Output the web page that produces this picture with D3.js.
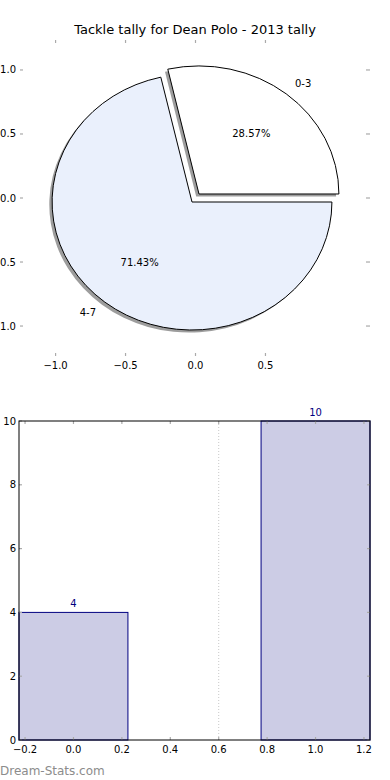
<!DOCTYPE html>
<html>
<head>
<meta charset="utf-8">
<script src="https://cdn.jsdelivr.net/npm/d3@7"></script>
<style>
  body { margin: 0; background: #fff; }
  svg { display: block; font-family: "DejaVu Sans", sans-serif; }
</style>
</head>
<body>
<svg id="chart" width="390" height="780"></svg>
<script>
// pie data
const pieLabels = ["0-3", "4-7"];
const pieValues = [4, 10];
const pieColors = ["#ffffff", "#eaf0fc"];
const pieExplode = [0.04, 0.04];
const pieXTicks = [-1.0, -0.5, 0.0, 0.5];
const pieYTicks = [1.0, 0.5, 0.0, -0.5, -1.0];

// bar data
const barPositions = [0, 1];
const barValues = [4, 10];
const barXTicks = [-0.2, 0.0, 0.2, 0.4, 0.6, 0.8, 1.0, 1.2];
const barYTicks = [0, 2, 4, 6, 8, 10];

const svg = d3.select("#chart");
const tickGray = "#aaaaaa";
const fmt1 = d => d3.format(".1f")(d).replace("-", "\u2212");

// ---------- Pie ----------
const pieBox = { left: 22, right: 369, top: 40, bottom: 356 };
const px = d3.scaleLinear().domain([-1.24, 1.24]).range([pieBox.left, pieBox.right]);
const py = d3.scaleLinear().domain([-1.234, 1.234]).range([pieBox.bottom, pieBox.top]);

svg.append("text")
  .attr("x", 195).attr("y", 34)
  .attr("text-anchor", "middle")
  .style("font-size", "13px")
  .text("Tackle tally for Dean Polo - 2013 tally");

// ticks (no spines)
const pieAxes = svg.append("g");
pieXTicks.forEach(t => {
  pieAxes.append("line").attr("x1", px(t)).attr("x2", px(t)).attr("y1", pieBox.top).attr("y2", pieBox.top + 3)
    .attr("stroke", tickGray).attr("stroke-width", 1.2);
  pieAxes.append("line").attr("x1", px(t)).attr("x2", px(t)).attr("y1", pieBox.bottom).attr("y2", pieBox.bottom - 3)
    .attr("stroke", tickGray).attr("stroke-width", 1.2);
  pieAxes.append("text").attr("x", px(t)).attr("y", pieBox.bottom + 13)
    .attr("text-anchor", "middle").style("font-size", "10px").text(fmt1(t));
});
pieYTicks.forEach(t => {
  pieAxes.append("line").attr("x1", pieBox.left - 2).attr("x2", pieBox.left + 1).attr("y1", py(t)).attr("y2", py(t))
    .attr("stroke", tickGray).attr("stroke-width", 1.2);
  pieAxes.append("line").attr("x1", pieBox.right - 3).attr("x2", pieBox.right + 1).attr("y1", py(t)).attr("y2", py(t))
    .attr("stroke", tickGray).attr("stroke-width", 1.2);
  pieAxes.append("text").attr("x", pieBox.left - 6).attr("y", py(t)).attr("dy", "0.35em")
    .attr("text-anchor", "end").style("font-size", "10px").text(fmt1(t));
});

// angles: matplotlib style, start at east, counterclockwise
const pie = d3.pie().sort(null).startAngle(Math.PI / 2).endAngle(Math.PI / 2 - 2 * Math.PI);
const arcs = pie(pieValues);
const arc = d3.arc().innerRadius(0).outerRadius(1);
const sx = px(1) - px(0), sy = py(0) - py(1);

function sliceOffset(d, i) {
  const a = (d.startAngle + d.endAngle) / 2;
  return [px(pieExplode[i] * Math.sin(a)), py(pieExplode[i] * Math.cos(a))];
}

// shadows
svg.append("g").selectAll("path").data(arcs).enter().append("path")
  .attr("d", arc)
  .attr("transform", (d, i) => {
    const [cx, cy] = sliceOffset(d, i);
    return `translate(${cx - 0.02 * sx},${cy + 0.02 * sy}) scale(${sx},${sy})`;
  })
  .attr("fill", "#4d4d4d").attr("opacity", 0.55);

// slices
svg.append("g").selectAll("path").data(arcs).enter().append("path")
  .attr("d", arc)
  .attr("transform", (d, i) => {
    const [cx, cy] = sliceOffset(d, i);
    return `translate(${cx},${cy}) scale(${sx},${sy})`;
  })
  .attr("fill", (d, i) => pieColors[i])
  .attr("stroke", "#000").attr("stroke-width", 1)
  .attr("vector-effect", "non-scaling-stroke");

// labels
arcs.forEach((d, i) => {
  const a = (d.startAngle + d.endAngle) / 2;
  const ex = pieExplode[i] * Math.sin(a), ey = pieExplode[i] * Math.cos(a);
  const lx = 1.1 * Math.sin(a) + ex, ly = 1.1 * Math.cos(a) + ey;
  svg.append("text")
    .attr("x", px(lx)).attr("y", py(ly)).attr("dy", "0.35em")
    .attr("text-anchor", lx > 0 ? "start" : "end")
    .style("font-size", "10px")
    .text(pieLabels[i]);
  const tx = 0.6 * Math.sin(a) + ex, ty = 0.6 * Math.cos(a) + ey;
  svg.append("text")
    .attr("x", px(tx)).attr("y", py(ty)).attr("dy", "0.35em")
    .attr("text-anchor", "middle")
    .style("font-size", "10px")
    .text(d3.format(".2f")(100 * d.value / d3.sum(pieValues)) + "%");
});

// ---------- Bar ----------
const barBox = { left: 19, right: 370, top: 421, bottom: 740 };
const bx = d3.scaleLinear().domain([-0.225, 1.225]).range([barBox.left, barBox.right]);
const by = d3.scaleLinear().domain([0, 10]).range([barBox.bottom, barBox.top]);
const barWidth = 0.45;

// dotted line between bars
svg.append("line")
  .attr("x1", bx(0.6)).attr("x2", bx(0.6)).attr("y1", barBox.top).attr("y2", barBox.bottom)
  .attr("stroke", "#c8c8c8").attr("stroke-dasharray", "1,2");

svg.append("g").selectAll("rect").data(barValues).enter().append("rect")
  .attr("x", (d, i) => bx(barPositions[i] - barWidth / 2))
  .attr("y", d => by(d))
  .attr("width", bx(barWidth) - bx(0))
  .attr("height", d => by(0) - by(d))
  .attr("fill", "#ccccE5")
  .attr("stroke", "#000080").attr("stroke-width", 1);

svg.append("g").selectAll("text").data(barValues).enter().append("text")
  .attr("x", (d, i) => bx(barPositions[i]))
  .attr("y", d => by(d) - 5)
  .attr("text-anchor", "middle")
  .style("font-size", "10px")
  .attr("fill", "#000080")
  .text(d => d);

// ticks
const barAxes = svg.append("g");
barXTicks.forEach(t => {
  barAxes.append("line").attr("x1", bx(t)).attr("x2", bx(t)).attr("y1", barBox.top).attr("y2", barBox.top + 3)
    .attr("stroke", tickGray).attr("stroke-width", 1.2);
  barAxes.append("line").attr("x1", bx(t)).attr("x2", bx(t)).attr("y1", barBox.bottom).attr("y2", barBox.bottom - 3)
    .attr("stroke", tickGray).attr("stroke-width", 1.2);
  barAxes.append("text").attr("x", bx(t)).attr("y", barBox.bottom + 13)
    .attr("text-anchor", "middle").style("font-size", "10px").text(fmt1(t));
});
barYTicks.forEach(t => {
  barAxes.append("line").attr("x1", barBox.left).attr("x2", barBox.left + 3).attr("y1", by(t)).attr("y2", by(t))
    .attr("stroke", tickGray).attr("stroke-width", 1.2);
  barAxes.append("line").attr("x1", barBox.right - 3).attr("x2", barBox.right).attr("y1", by(t)).attr("y2", by(t))
    .attr("stroke", tickGray).attr("stroke-width", 1.2);
  barAxes.append("text").attr("x", barBox.left - 3).attr("y", by(t)).attr("dy", "0.35em")
    .attr("text-anchor", "end").style("font-size", "10px").text(t);
});

// frame
svg.append("rect")
  .attr("x", barBox.left).attr("y", barBox.top)
  .attr("width", barBox.right - barBox.left).attr("height", barBox.bottom - barBox.top)
  .attr("fill", "none").attr("stroke", "#000").attr("stroke-width", 1);

// watermark
svg.append("text")
  .attr("x", 0).attr("y", 775)
  .style("font-size", "12px")
  .attr("fill", "#8c8c8c")
  .text("Dream-Stats.com");
</script>
</body>
</html>
